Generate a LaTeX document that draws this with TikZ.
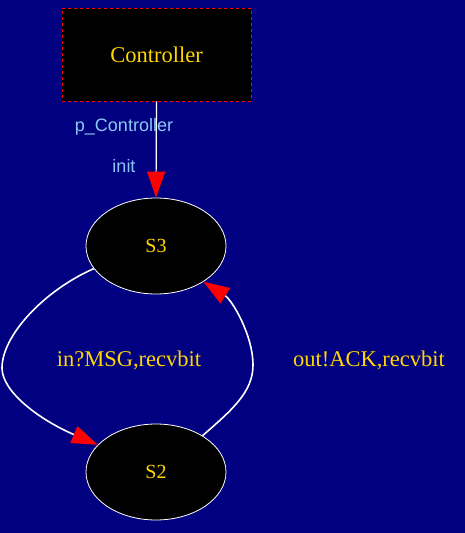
\documentclass[tikz,border=0pt]{standalone}
\usepackage{fontspec}
\setmainfont{Liberation Serif}
\setsansfont{Liberation Sans}
\usetikzlibrary{arrows.meta,shapes.geometric}
\definecolor{bg}{RGB}{0,0,128}
\definecolor{gold}{RGB}{255,215,0}
\definecolor{lblue}{RGB}{140,200,245}
\tikzset{
  statebox/.style={ellipse,draw=white,line width=0.8pt,fill=black,minimum width=140pt,minimum height=96pt,inner sep=0pt,text=gold,font=\fontsize{20}{24}\selectfont},
  procbox/.style={rectangle,draw=red,dashed,line width=0.8pt,fill=black,minimum width=189pt,minimum height=93pt,text=gold,font=\fontsize{22.5}{26}\selectfont},
  conn/.style={draw=white,line width=1.6pt,-{Triangle[length=26pt,width=18pt,fill=red,color=red]}},
  trlabel/.style={text=gold,font=\fontsize{22.5}{26}\selectfont,inner sep=0pt},
  portlabel/.style={text=lblue,font=\sffamily\fontsize{18}{21}\selectfont,inner sep=0pt}
}
\begin{document}
\begin{tikzpicture}[x=1pt,y=-1pt]
\fill[bg] (0,0) rectangle (465,533);
\useasboundingbox (0,0) rectangle (465,533);
\node[procbox] (ctrl) at (156.5,54.5) {Controller};
\node[statebox] (S3) at (156,246) {S3};
\node[statebox] (S2) at (156,472) {S2};
\node[portlabel] (pc) at (124,127) {p\_Controller};
\node[portlabel] (ini) at (124,166) {init};
\node[trlabel] (l1) at (129,360) {in?MSG,recvbit};
\node[trlabel] (l2) at (369,360) {out!ACK,recvbit};
\coordinate (lw) at (2,368);
\coordinate (rw) at (253,365);
\draw[conn,line width=1.2pt] (ctrl.south) -- (S3.north);
\draw[conn] (S3.200) .. controls (45,290) and (2,335) .. (lw) .. controls (2,392) and (40,420) .. (S2.155);
\draw[conn] (S2.38) .. controls (232,410) and (253,392) .. (rw) .. controls (253,335) and (232,300) .. (S3.323);
\end{tikzpicture}
\end{document}
